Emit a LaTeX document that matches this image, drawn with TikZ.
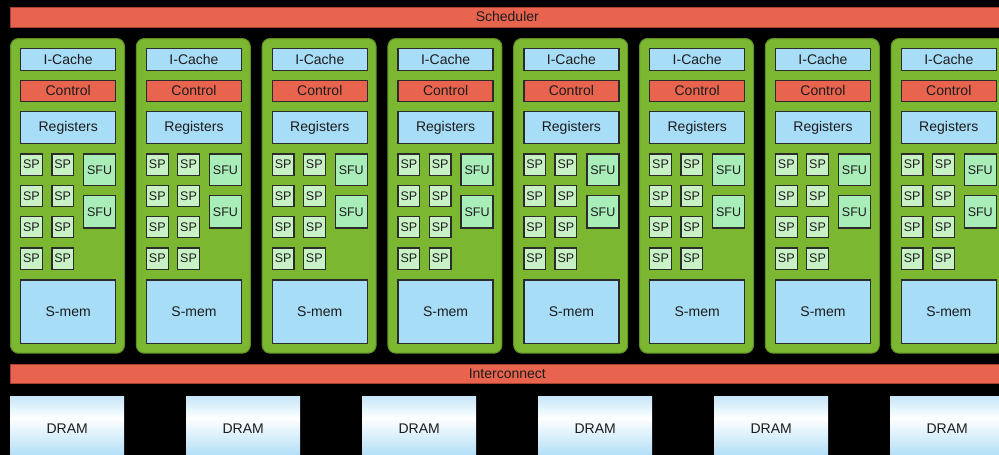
\documentclass[tikz,border=0pt]{standalone}
\usepackage{fontspec}
\setmainfont{Liberation Sans}
\definecolor{barred}{HTML}{E9644F}
\definecolor{barredline}{HTML}{A8402F}
\definecolor{smgreen}{HTML}{7CB732}
\definecolor{smgreendark}{HTML}{5E8E24}
\definecolor{boxblue}{HTML}{A8DDF8}
\definecolor{spgreen}{HTML}{C8F2C6}
\definecolor{sfugreen}{HTML}{A9EDB8}
\definecolor{edge}{HTML}{2B2B2B}
\definecolor{dramblue}{HTML}{9DD5F4}
\definecolor{ink}{HTML}{1C1C1C}
\pgfdeclareverticalshading{dramshade}{100bp}{color(0bp)=(dramblue); color(30bp)=(dramblue!75); color(58bp)=(white); color(78bp)=(dramblue!70); color(100bp)=(dramblue)}
\tikzset{
  lbl/.style={font=\fontsize{14}{16}\selectfont, text=ink},
  small/.style={font=\fontsize{12.5}{14}\selectfont, text=ink},
  bar/.style={lbl, fill=barred, draw=barredline, line width=0.6pt, inner sep=0pt, anchor=north west},
  smframe/.style={fill=smgreen, draw=smgreendark, line width=1pt, rounded corners=8pt, inner sep=0pt, anchor=north west},
  bluebox/.style={lbl, fill=boxblue, draw=edge, line width=1.4pt, inner sep=0pt, anchor=north west, minimum width=95pt},
  redbox/.style={lbl, fill=barred, draw=edge, line width=1.4pt, inner sep=0pt, anchor=north west, minimum width=95pt},
  spbox/.style={small, fill=spgreen, draw=edge, line width=1.3pt, inner sep=0pt, anchor=north west, minimum width=21.7pt, minimum height=21.3pt},
  sfubox/.style={small, fill=sfugreen, draw=edge, line width=1.3pt, inner sep=0pt, anchor=north west, minimum width=32pt},
  dram/.style={lbl, shading=dramshade, inner sep=0pt, anchor=north west, minimum width=114pt, minimum height=64pt},
}
\begin{document}
\begin{tikzpicture}[x=1pt,y=-1pt]
\clip (0,0) rectangle (999,455);
\fill[black] (0,0) rectangle (999,455);

% global scheduler
\node[bar, minimum width=994pt, minimum height=20pt] (sched) at (10,6.5) {Scheduler};

% streaming multiprocessors
\foreach \i in {0,...,7}{
  \pgfmathsetmacro\x{10+125.8*\i}
  \node[smframe, minimum width=114pt, minimum height=314.7pt] (sm\i) at (\x,38) {};
  \node[bluebox, minimum height=21.7pt] (ic\i) at ({\x+10},48) {I-Cache};
  \node[redbox, minimum height=21pt] (ctl\i) at ({\x+10},79.7) {Control};
  \node[bluebox, minimum height=31.7pt] (reg\i) at ({\x+10},111) {Registers};
  \foreach \r/\yy in {1/153.3, 2/184.5, 3/215.8, 4/247.3}{
    \foreach \c/\dx in {1/10, 2/41.2}{
      \node[spbox] (sp\i-\r-\c) at ({\x+\dx},\yy) {SP};
    }
  }
  \node[sfubox, minimum height=31.7pt] (sfuA\i) at ({\x+73},153.3) {SFU};
  \node[sfubox, minimum height=32.3pt] (sfuB\i) at ({\x+73},195) {SFU};
  \node[bluebox, minimum height=63.4pt] (smem\i) at ({\x+10},279.3) {S-mem};
}

% interconnect
\node[bar, minimum width=994pt, minimum height=19.3pt] (icn) at (10,364) {Interconnect};

% memory banks
\foreach \j in {0,...,5}{
  \pgfmathsetmacro\dx{10+176*\j}
  \node[dram] (dram\j) at (\dx,396) {DRAM};
}
\end{tikzpicture}
\end{document}
